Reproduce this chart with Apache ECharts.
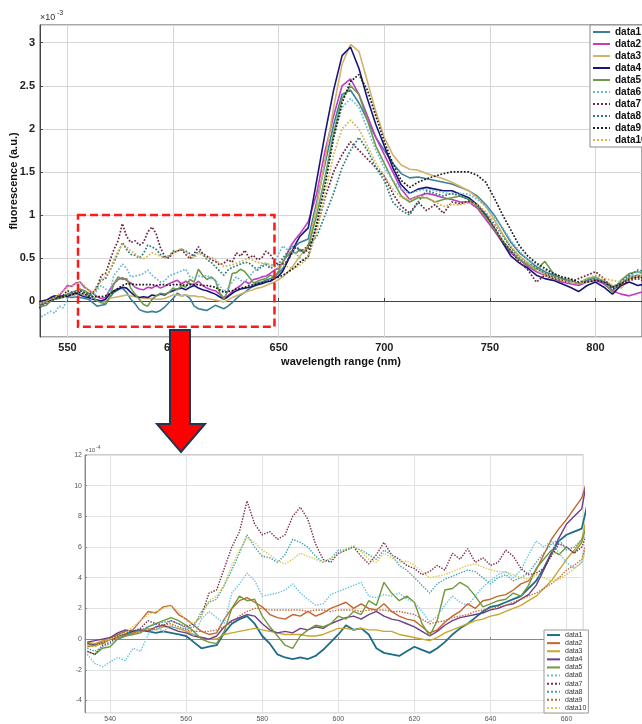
<!DOCTYPE html>
<html><head><meta charset="utf-8">
<script src="https://cdn.jsdelivr.net/npm/echarts@6/dist/echarts.min.js"></script>
<style>html,body{margin:0;padding:0;background:#fff}#c{width:642px;height:724px}</style>
</head><body><div id="c"></div>
<script>
// wavelength (nm)
const wavelength = [
 534,536,538,540,542,544,546,548,550,552,
 554,556,558,560,562,564,566,568,570,572,
 574,576,578,580,582,584,586,588,590,592,
 594,596,598,600,602,604,606,608,610,612,
 614,616,618,620,622,624,626,628,630,632,
 634,636,638,640,642,644,646,648,650,652,
 654,656,658,660,662,664,
 668,672,676,680,684,688,692,696,700,704,
 708,712,716,720,724,728,732,736,740,744,
 748,752,756,760,764,768,772,776,780,784,
 788,792,796,800,804,808,812,816,820,824
];
const seriesNames = ['data1','data2','data3','data4','data5','data6','data7','data8','data9','data10'];
// fluorescence in units of 1e-4 a.u.
const data1 = [
 -0.3,-0.4,-0.2,0.0,0.2,0.3,0.5,0.6,0.5,0.4,
 0.5,0.4,0.3,0.2,-0.2,-0.6,-0.5,-0.4,0.4,1.0,
 1.3,1.5,1.0,0.2,-0.3,-1.0,-1.2,-1.3,-1.2,-1.3,
 -1.1,-0.7,-0.2,0.3,0.9,0.6,0.7,0.3,-0.6,-0.9,
 -1.0,-1.1,-0.8,-0.5,-0.7,-0.9,-0.6,-0.2,0.3,0.7,
 1.0,1.4,1.8,2.1,2.2,2.4,2.6,2.8,3.3,3.8,
 4.6,5.6,6.4,6.8,7.0,7.2,
 11.5,16,20.5,24,24.5,23,21,19,17.5,16,
 14.8,14.3,14.4,14.2,14,13.8,13.6,13.2,12.8,12.2,
 11.2,10,8.4,6.8,5.6,4.8,4.0,3.4,3.0,2.6,
 2.4,2.0,2.4,2.6,2.0,1.2,2.0,2.8,3.0,2.8
];
const data2 = [
 -0.5,-0.4,-0.3,0.0,0.3,0.5,0.6,1.2,1.8,1.7,
 2.1,2.2,1.6,1.3,0.9,0.5,0.3,0.4,1.3,2.0,
 2.5,2.7,2.4,2.1,1.6,1.4,1.3,1.6,1.5,1.8,
 1.5,1.7,2.0,2.2,2.4,2.0,2.3,2.0,1.9,2.3,
 1.8,1.5,1.3,1.2,0.8,0.4,0.6,1.1,1.5,1.8,
 2.3,2.0,2.5,2.6,2.8,2.9,3.2,3.6,3.8,4.5,
 5.5,6.5,7.2,7.8,8.5,9.2,
 12.5,17.5,21.5,25,25.8,24,21.5,19,17,15,
 13,11.8,12.2,12.5,12.3,12,11.8,11.5,11.5,10.8,
 9.5,8.2,6.8,5.6,4.8,4.0,3.4,3.0,2.6,2.2,
 2.0,1.8,2.2,2.4,2.0,1.2,0.8,0.6,0.9,1.2
];
const data3 = [
 -0.2,-0.3,-0.1,0.0,0.1,0.2,0.4,0.5,0.7,0.6,
 0.8,0.8,0.7,0.5,0.3,0.1,0.0,0.0,0.3,0.4,
 0.5,0.6,0.7,0.6,0.5,0.4,0.3,0.3,0.3,0.2,
 0.2,0.3,0.5,0.7,0.7,0.6,0.7,0.6,0.6,0.5,
 0.5,0.3,0.2,0.1,0.0,-0.1,0.1,0.4,0.6,0.8,
 1.0,1.2,1.3,1.5,1.6,1.8,2.0,2.2,2.5,2.8,
 3.3,3.8,4.5,5.2,5.8,6.5,
 11,16.5,22.5,27.5,29.8,29,25.5,22,19,17,
 15.8,15.3,15.2,14.8,14.5,14.2,13.8,13.3,12.8,12,
 11,9.5,7.8,6.2,5.2,4.4,3.8,3.2,2.8,2.6,
 2.4,2.0,2.2,2.6,2.4,1.8,1.5,2.6,2.8,2.6
];
const data4 = [
 -0.2,-0.1,0.0,0.1,0.4,0.6,0.5,0.6,0.5,0.8,
 0.9,0.7,0.5,0.4,0.2,0.1,0.0,0.2,0.8,1.2,
 1.4,1.6,1.5,1.0,0.6,0.4,0.5,0.4,0.7,0.6,
 0.8,0.7,1.0,1.2,1.4,1.5,1.3,1.6,1.8,1.5,
 1.3,1.2,1.0,0.8,0.5,0.2,0.5,0.9,1.2,1.4,
 1.5,1.6,1.7,1.9,2.0,2.2,2.3,2.6,2.9,3.5,
 4.5,5.6,6.6,7.5,8.0,8.5,
 14,19.5,24.5,28.5,29.5,27,23.5,20.5,18,15.5,
 13.5,12.5,13,13.2,13,12.8,12.8,12.4,12,11.2,
 10,8.5,6.8,5.2,4.4,3.8,3.0,2.6,2.4,2.0,
 1.6,1.1,1.8,2.2,1.6,0.8,1.8,2.2,1.8,2.0
];
const data5 = [
 -0.8,-1.0,-0.6,-0.5,0.0,0.2,0.3,0.4,0.8,1.0,
 1.2,1.4,1.2,0.9,0.5,0.0,-0.2,-0.3,0.5,2.0,
 2.8,2.5,2.6,1.5,0.8,0.2,-0.4,-0.6,0.2,0.6,
 0.9,0.8,1.0,1.5,1.3,1.8,1.6,2.5,2.2,3.7,
 3.0,2.5,2.8,2.4,1.0,0.2,1.2,3.2,3.3,3.7,
 3.4,2.8,2.1,2.3,2.5,2.6,3.0,2.8,3.5,4.6,
 5.2,5.8,5.5,6.0,5.6,6.3,
 10,14.5,19.5,23.5,25,24,21,18,16,14,
 12.2,11.5,12,12,11.5,11.8,12,12.2,11.8,11,
 9.8,8.4,7,5.8,4.8,4.2,3.6,4.6,3.2,2.6,
 2.4,2.0,2.6,2.8,2.2,1.0,2.4,3.2,3.4,3.0
];
const data6 = [
 -1.0,-1.6,-1.8,-1.5,-1.2,-1.4,-0.6,-0.8,0.3,0.8,
 0.5,0.9,0.6,0.7,0.2,1.3,1.8,1.4,1.0,3.0,
 3.6,4.3,3.8,2.8,2.9,3.0,3.2,3.6,3.0,2.6,
 2.2,2.3,2.9,3.1,3.3,3.5,3.7,2.8,2.7,2.9,
 2.8,3.0,2.6,2.4,1.8,1.1,1.5,2.2,2.8,2.4,
 2.2,2.8,3.4,3.8,4.2,4.4,4.0,4.5,5.5,6.4,
 6.0,6.4,5.6,5.0,4.6,5.0,
 9,14,19,22.5,23.5,22.5,20,17.5,15.5,14,
 13,12.5,12.8,13,12.8,12.6,12.4,12.5,12.4,11.8,
 11,9.8,8.5,7,5.8,4.8,4.2,3.6,3.2,2.8,
 2.4,2.2,2.6,2.8,2.2,1.4,2.2,3.0,3.4,3.2
];
const data7 = [
 -0.8,-1.0,-0.4,-0.2,0.2,0.4,0.5,0.7,1.2,1.0,
 0.9,1.2,1.0,0.8,1.0,1.5,3.0,3.2,4.6,6.0,
 7.0,9.0,7.5,6.8,7.0,6.5,6.8,8.0,8.6,7.8,
 6.2,5.2,5.0,5.6,5.8,6.0,5.4,4.9,5.5,6.3,
 5.5,5.2,4.8,4.6,4.2,4.4,4.8,4.5,5.6,5.2,
 5.9,5.0,5.3,4.8,5.0,5.8,5.4,4.6,4.2,4.3,
 4.6,5.4,6.2,6.0,5.6,6.0,
 8.5,12,15,17,18.5,17.5,16.5,15.5,14.5,12.5,
 11,10.2,11.5,10.5,11.2,10.2,11.5,11.3,11.6,11.2,
 10,8.6,7,5.8,4.5,3.6,2.2,3.0,2.6,2.4,
 2.2,2.6,3.0,3.4,2.6,1.4,1.8,2.4,2.6,2.2
];
const data8 = [
 -0.6,-0.8,-0.5,-0.3,0.0,0.2,0.4,0.6,0.8,1.0,
 1.1,1.2,1.0,0.7,0.8,1.8,2.4,2.6,3.5,4.5,
 5.6,6.8,6.0,5.4,5.3,5.0,5.5,6.5,6.3,6.0,
 5.4,5.0,5.2,5.8,5.8,6.0,5.8,5.5,5.2,5.8,
 5.5,4.8,4.5,4.0,3.5,3.0,3.6,3.9,4.1,4.3,
 4.5,4.4,4.0,3.6,4.0,4.2,3.8,4.0,4.3,5.0,
 5.6,6.2,6.5,5.8,6.0,6.5,
 7.5,10,12.5,15.5,17.5,19,17.5,15.5,14,11.5,
 10.5,10,11.5,12.8,12.5,12.2,12.5,12.2,11.8,11.2,
 10.2,9,7.6,6.2,5.0,4.4,3.8,3.2,2.8,2.6,
 2.3,2.0,2.4,2.6,2.2,1.6,2.2,3.0,3.6,3.4
];
const data9 = [
 -0.3,-0.5,-0.2,0.0,0.1,0.3,0.4,0.5,0.6,0.7,
 0.9,1.0,0.8,0.6,0.5,0.5,0.5,0.6,0.8,1.1,
 1.5,1.8,2.0,2.0,1.9,1.9,1.9,1.9,1.9,1.8,
 1.9,1.9,1.8,1.9,1.9,1.9,1.8,1.9,1.9,1.9,
 1.8,1.8,1.7,1.6,1.3,1.0,1.1,1.2,1.4,1.5,
 1.6,1.8,1.9,2.0,2.1,2.2,2.4,2.6,2.8,3.0,
 3.3,3.6,4.0,4.5,4.8,5.2,
 9,13.5,19,23,25.5,26.3,24.5,21.5,18.5,16,
 14,13.2,13.8,14.2,14.5,14.8,15,15,15,14.6,
 13.8,12,10,8.2,6.4,5.2,4.4,3.8,3.2,2.8,
 2.6,2.2,2.2,2.4,2.2,1.6,2.0,2.6,2.8,2.6
];
const data10 = [
 -0.4,-0.5,-0.2,0.0,0.2,0.4,0.8,1.2,1.6,1.8,
 2.0,2.2,1.8,1.2,1.0,1.5,2.5,2.8,3.5,4.8,
 5.8,6.6,6.3,5.8,5.5,5.1,4.9,5.2,5.6,5.4,
 5.2,5.0,5.3,5.5,5.9,6.1,5.7,5.2,5.0,5.6,
 5.3,5.0,5.1,4.8,4.4,4.0,4.1,4.2,4.4,4.6,
 4.8,4.9,4.7,4.5,4.4,4.4,4.2,4.0,3.9,4.2,
 4.0,3.8,3.9,4.2,4.6,5.0,
 8,12.5,17,20,21,20,18,16,14.5,13,
 12,11.8,12.2,12,11.5,11,11.2,11.2,11.4,11.2,
 10.4,9.2,7.8,6.4,5.2,4.4,3.6,3.0,2.6,2.4,
 2.2,2.0,2.6,3.0,2.6,2.4,2.2,2.8,3.0,2.8
];
const values = [data1,data2,data3,data4,data5,data6,data7,data8,data9,data10];
// highlighted region (nm, x1e-3)
const boxRegion = [[555, 1.0], [648, -0.3]];

const topColors = ['#3a7f9a','#c23bc2','#d2b36c','#16167a','#6f9a4b','#6cb9d2','#6b2446','#2b7b78','#1a1a1a','#d6b44c'];
const bottomColors = ['#1d6d8a','#c2652f','#caa52e','#6c3f88','#70993a','#68c2e2','#7a2a48','#3ea2b4','#c2652f','#d9c84a'];
const lineTypes = ['solid','solid','solid','solid','solid','dotted','dotted','dotted','dotted','dotted'];

const series = [];
values.forEach((vals, i) => {
  series.push({
    name: seriesNames[i], type: 'line', xAxisIndex: 0, yAxisIndex: 0, symbol: 'none',
    data: wavelength.map((w, j) => [w, vals[j] / 10]),
    lineStyle: {color: topColors[i], width: lineTypes[i] === 'solid' ? 1.6 : 1.7, type: lineTypes[i]},
    itemStyle: {color: topColors[i]}, clip: true, silent: true
  });
});
values.forEach((vals, i) => {
  series.push({
    name: 'b:' + seriesNames[i], type: 'line', xAxisIndex: 1, yAxisIndex: 1, symbol: 'none',
    data: wavelength.map((w, j) => [w, vals[j]]),
    lineStyle: {color: bottomColors[i], width: i === 0 ? 1.8 : 1.4, type: lineTypes[i]},
    itemStyle: {color: bottomColors[i]}, clip: true, silent: true
  });
});

const FF = '"Liberation Sans", Arial, sans-serif';
const chart = echarts.init(document.getElementById('c'));
chart.setOption({
  animation: false,
  backgroundColor: '#ffffff',
  grid: [
    {left: 40, top: 25, right: 0, bottom: 387, show: true, borderColor: '#555', borderWidth: 1, backgroundColor: '#fff', outerBoundsMode: 'none', containLabel: false},
    {left: 85, top: 455, right: 58.7, bottom: 11.3, show: true, borderColor: '#9a9a9a', borderWidth: 1, backgroundColor: '#fff', outerBoundsMode: 'none', containLabel: false}
  ],
  xAxis: [
    {type: 'value', gridIndex: 0, min: 537, max: 822, splitNumber: 5,
     axisLine: {show: true, lineStyle: {color: '#444'}},
     axisTick: {show: true, inside: true, length: 3, lineStyle: {color: '#444'}},
     axisLabel: {color: '#222', fontWeight: 'bold', fontSize: 11, fontFamily: FF, margin: 5, showMinLabel: false, showMaxLabel: false},
     splitLine: {show: true, lineStyle: {color: '#d6d6d6'}},
     name: 'wavelength range (nm)', nameLocation: 'middle', nameGap: 19, nameMoveOverlap: false,
     nameTextStyle: {color: '#111', fontWeight: 'bold', fontSize: 11, fontFamily: FF}},
    {type: 'value', gridIndex: 1, min: 533.4, max: 664.4, splitNumber: 6,
     axisLine: {show: true, lineStyle: {color: '#888'}},
     axisTick: {show: true, inside: true, length: 2, lineStyle: {color: '#888'}},
     axisLabel: {color: '#555', fontSize: 7, fontFamily: FF, margin: 3, showMinLabel: false, showMaxLabel: false},
     splitLine: {show: true, lineStyle: {color: '#e2e2e2'}}}
  ],
  yAxis: [
    {type: 'value', gridIndex: 0, min: -0.418, max: 3.206, splitNumber: 7,
     axisLine: {show: true, lineStyle: {color: '#444'}},
     axisTick: {show: true, inside: true, length: 3, lineStyle: {color: '#444'}},
     axisLabel: {color: '#222', fontWeight: 'bold', fontSize: 11, fontFamily: FF, margin: 5, showMinLabel: false, showMaxLabel: false},
     splitLine: {show: true, lineStyle: {color: '#d6d6d6'}},
     name: 'fluorescence (a.u.)', nameLocation: 'middle', nameGap: 21, nameMoveOverlap: false,
     nameTextStyle: {color: '#111', fontWeight: 'bold', fontSize: 11, fontFamily: FF}},
    {type: 'value', gridIndex: 1, min: -4.8, max: 12, splitNumber: 8,
     axisLine: {show: true, lineStyle: {color: '#888'}},
     axisTick: {show: true, inside: true, length: 2, lineStyle: {color: '#888'}},
     axisLabel: {color: '#555', fontSize: 7, fontFamily: FF, margin: 3, showMinLabel: false},
     splitLine: {show: true, lineStyle: {color: '#e2e2e2'}}}
  ],
  legend: [
    {data: seriesNames, orient: 'vertical', left: 590, top: 25, itemWidth: 17, itemHeight: 10, itemGap: 2,
     padding: [2, 4, 2, 2], selectedMode: false, backgroundColor: '#fff', borderColor: '#8a8a8a', borderWidth: 1,
     itemStyle: {opacity: 0},
     textStyle: {color: '#111', fontWeight: 'bold', fontSize: 10, fontFamily: FF}},
    {data: seriesNames.map(n => 'b:' + n), formatter: n => n.slice(2), orient: 'vertical', left: 544, top: 630,
     itemWidth: 13, itemHeight: 6, itemGap: 0, padding: [1, 2, 1, 2], selectedMode: false,
     backgroundColor: '#fff', borderColor: '#9a9a9a', borderWidth: 1,
     itemStyle: {opacity: 0},
     textStyle: {color: '#333', fontSize: 7, lineHeight: 8.1, fontFamily: FF}}
  ],
  series: series
});

const p1 = chart.convertToPixel({xAxisIndex: 0, yAxisIndex: 0}, boxRegion[0]);
const p2 = chart.convertToPixel({xAxisIndex: 0, yAxisIndex: 0}, boxRegion[1]);
chart.setOption({
  graphic: [
    {type: 'rect', z: 100, shape: {x: p1[0], y: p1[1], width: p2[0] - p1[0], height: p2[1] - p1[1]},
     style: {fill: 'none', stroke: '#ff1a1a', lineWidth: 2.5, lineDash: [8, 4]}},
    {type: 'polygon', z: 101, shape: {points: [[170,330],[190,330],[190,424],[205,424],[181,452],[157,424],[170,424]]},
     style: {fill: '#ff0000', stroke: '#22364f', lineWidth: 2}},
    {type: 'text', z: 100, left: 40, top: 13, style: {text: '×10', fontSize: 9, fill: '#333', fontFamily: FF}},
    {type: 'text', z: 100, left: 57, top: 10, style: {text: '-3', fontSize: 7, fill: '#333', fontFamily: FF}},
    {type: 'text', z: 100, left: 85, top: 447, style: {text: '×10', fontSize: 6, fill: '#555', fontFamily: FF}},
    {type: 'text', z: 100, left: 96, top: 445, style: {text: '-4', fontSize: 5, fill: '#555', fontFamily: FF}}
  ]
});
</script></body></html>
